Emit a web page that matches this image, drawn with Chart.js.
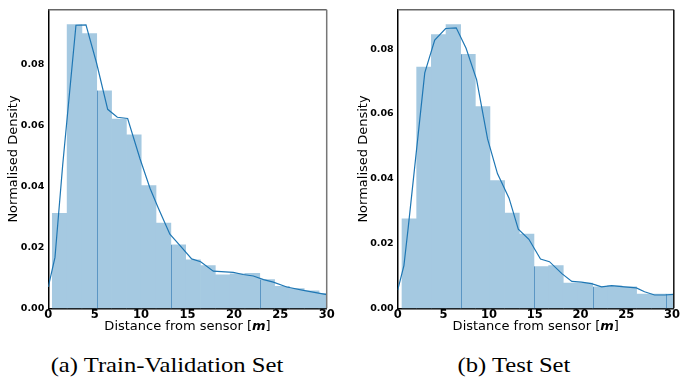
<!DOCTYPE html>
<html>
<head>
<meta charset="utf-8">
<script src="https://cdn.jsdelivr.net/npm/chart.js@4.4.0/dist/chart.umd.min.js"></script>
<style>
body { margin: 0; background: #fff; }
#wrap { position: relative; width: 680px; height: 381px; overflow: hidden; }
canvas { position: absolute; top: 0; }
.cap {
  position: absolute; top: 354px;
  font: 22px "Liberation Serif", "Times New Roman", serif;
  line-height: 1; white-space: nowrap; color: #000;
  transform: translateX(-50%) scaleX(1.12);
}
</style>
</head>
<body>
<div id="wrap">
  <canvas id="trainChart" width="340" height="340" style="left:0"></canvas>
  <canvas id="testChart" width="340" height="340" style="left:340px"></canvas>
  <div class="cap" style="left:167px">(a) Train-Validation Set</div>
  <div class="cap" style="left:514px">(b) Test Set</div>
</div>
<script>
// tick labels
const distanceTicks = [0, 5, 10, 15, 20, 25, 30];
const densityTicks = [0, 0.02, 0.04, 0.06, 0.08];

// (a) train-validation histogram + kde
const trainEdges = [0.43, 2.03, 3.62, 5.22, 6.82, 8.42, 10.01, 11.61, 13.21, 14.80,
  16.40, 18.00, 19.59, 21.19, 22.79, 24.39, 25.98, 27.58, 29.18, 30.77];
const trainDensity = [0.0312, 0.0931, 0.0902, 0.0714, 0.0621, 0.0569, 0.0403, 0.0280, 0.0208, 0.0159,
  0.0140, 0.0110, 0.0113, 0.0115, 0.0094, 0.0072, 0.0065, 0.0057, 0.0049];
const trainKdeX = [0, 0.72, 1.55, 2.98, 4.06, 5.2, 6.4, 7.44, 8.55, 9.88, 10.96, 11.85, 13.1, 14.2,
  15.45, 16.42, 17.78, 19.93, 21.0, 22.1, 23.2, 24.25, 25.7, 27.5, 30];
const trainKdeY = [0.0070, 0.0167, 0.047, 0.0929, 0.0930, 0.0805, 0.0653, 0.0627, 0.0623, 0.0491, 0.0394, 0.0329, 0.0243, 0.0206,
  0.0162, 0.0153, 0.0122, 0.0118, 0.0111, 0.0106, 0.0094, 0.0086, 0.0070, 0.0059, 0.0045];
const trainSeams = [3, 8, 14];

// (b) test histogram + kde
const testEdges = [0.47, 2.07, 3.68, 5.28, 6.89, 8.49, 10.09, 11.70, 13.30, 14.91,
  16.51, 18.11, 19.72, 21.32, 22.93, 24.53, 26.13, 27.74, 29.34, 30.95];
const testDensity = [0.0276, 0.0745, 0.0845, 0.0876, 0.0784, 0.0623, 0.0394, 0.0294, 0.0229, 0.0129,
  0.0132, 0.0078, 0.0078, 0.0066, 0.0069, 0.0066, 0.0044, 0.0044, 0.0044];
const testKdeX = [0, 0.68, 1.15, 2.96, 4.05, 5.24, 6.4, 7.48, 8.63, 9.83, 10.91, 12.18, 13.19, 14.35,
  15.62, 16.6, 17.96, 19.05, 20.1, 21.2, 22.3, 23.4, 24.8, 26.1, 27.0, 28.1, 29.2, 30.2];
const testKdeY = [0.0056, 0.0132, 0.0249, 0.0727, 0.0828, 0.0864, 0.0866, 0.0803, 0.0706, 0.0523, 0.0416, 0.0340, 0.0244, 0.0213,
  0.0152, 0.0144, 0.0107, 0.0083, 0.0081, 0.0076, 0.0066, 0.0070, 0.0066, 0.0063, 0.0051, 0.0041, 0.0041, 0.0043];
const testSeams = [4, 9, 13, 18];

const FONT = '"DejaVu Sans", Verdana, sans-serif';

// thin darker lines on some bin edges (as in the original render)
const seamLines = {
  id: 'seamLines',
  afterDatasetDraw(chart, args, opts) {
    if (args.index !== 1) return;
    const { ctx, chartArea, scales: { x, y } } = chart;
    ctx.save();
    ctx.beginPath();
    ctx.rect(chartArea.left, chartArea.top, chartArea.right - chartArea.left, chartArea.bottom - chartArea.top);
    ctx.clip();
    ctx.strokeStyle = '#5b96c4';
    ctx.lineWidth = 1;
    opts.seams.forEach(i => {
      const px = Math.round(x.getPixelForValue(opts.edges[i])) + 0.5;
      const h = Math.min(opts.density[i - 1], opts.density[i]);
      ctx.beginPath();
      ctx.moveTo(px, y.getPixelForValue(0));
      ctx.lineTo(px, y.getPixelForValue(h));
      ctx.stroke();
    });
    ctx.restore();
  }
};

// top and right spines
const frame = {
  id: 'frame',
  afterDraw(chart, args, opts) {
    const { ctx, chartArea: a } = chart;
    ctx.save();
    ctx.lineWidth = 1.5;
    ctx.strokeStyle = opts.topColor;
    ctx.beginPath(); ctx.moveTo(a.left, a.top); ctx.lineTo(a.right, a.top); ctx.stroke();
    ctx.strokeStyle = opts.rightColor;
    ctx.beginPath(); ctx.moveTo(a.right, a.top); ctx.lineTo(a.right, a.bottom); ctx.stroke();
    ctx.restore();
  }
};

// x title with bold italic unit
const xTitle = {
  id: 'xTitle',
  afterDraw(chart) {
    const { ctx, chartArea: a } = chart;
    const parts = [
      ['Distance from sensor [', '13px ' + FONT],
      ['m', 'italic bold 13px ' + FONT],
      [']', '13px ' + FONT]
    ];
    ctx.save();
    ctx.fillStyle = '#000';
    ctx.textBaseline = 'alphabetic';
    ctx.textAlign = 'left';
    let total = 0;
    parts.forEach(p => { ctx.font = p[1]; total += ctx.measureText(p[0]).width; });
    let x = (a.left + a.right) / 2 - total / 2;
    parts.forEach(p => { ctx.font = p[1]; ctx.fillText(p[0], x, 330); x += ctx.measureText(p[0]).width; });
    ctx.restore();
  }
};

function makeChart(id, edges, density, kdeX, kdeY, seams, o) {
  const bars = density.map((d, i) => ({ x: (edges[i] + edges[i + 1]) / 2, y: d }));
  const kde = kdeX.map((v, i) => ({ x: v, y: kdeY[i] }));
  return new Chart(document.getElementById(id), {
    type: 'bar',
    data: {
      datasets: [
        { type: 'line', data: kde, borderColor: '#1f77b4', borderWidth: 1.2, pointRadius: 0, tension: 0, fill: false, order: 0 },
        { type: 'bar', data: bars, backgroundColor: '#a5c9e1', borderWidth: 0, barPercentage: 1, categoryPercentage: 1, order: 1 }
      ]
    },
    options: {
      responsive: false,
      animation: false,
      layout: { autoPadding: false, padding: { left: 0, top: 6, right: o.rightPad, bottom: 0 } },
      plugins: {
        legend: { display: false },
        tooltip: { enabled: false },
        seamLines: { edges: edges, density: density, seams: seams },
        frame: { topColor: o.topColor, rightColor: o.rightColor }
      },
      scales: {
        x: {
          type: 'linear', min: 0, max: o.xMax, offset: false,
          afterFit: s => { s.height = 31.7; },
          afterBuildTicks: s => { s.ticks = distanceTicks.map(v => ({ value: v })); },
          ticks: { color: '#000', padding: 0, font: { family: FONT, size: 11.5, weight: 'bold' }, maxRotation: 0, autoSkip: false },
          grid: { display: false, drawTicks: false },
          border: { color: '#000', width: 1.5 }
        },
        y: {
          min: 0, max: o.yMax,
          afterFit: s => { s.width = o.yWidth; },
          afterBuildTicks: s => { s.ticks = densityTicks.map(v => ({ value: v })); },
          ticks: { color: '#000', padding: 4, font: { family: FONT, size: 9.5, weight: 'bold' }, callback: v => v.toFixed(2) },
          grid: { display: false, drawTicks: false },
          border: { color: '#000', width: 1.5 },
          title: { display: true, text: 'Normalised Density', color: '#000', font: { family: FONT, size: 13 }, padding: { top: o.titlePad, bottom: 0 } }
        }
      }
    },
    plugins: [seamLines, frame, xTitle]
  });
}

makeChart('trainChart', trainEdges, trainDensity, trainKdeX, trainKdeY, trainSeams,
  { xMax: 30, yMax: 0.098, yWidth: 48.3, rightPad: 13.3, titlePad: 6.2, topColor: '#666', rightColor: '#777' });
makeChart('testChart', testEdges, testDensity, testKdeX, testKdeY, testSeams,
  { xMax: 30.2, yMax: 0.0922, yWidth: 57.7, rightPad: 4, titlePad: 16.2, topColor: '#666', rightColor: '#111' });
</script>
</body>
</html>
